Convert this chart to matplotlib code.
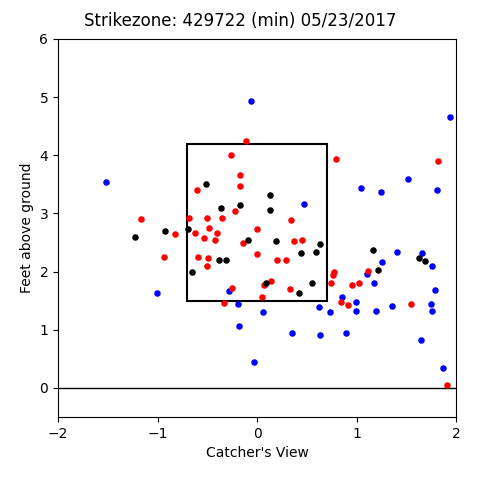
import matplotlib
matplotlib.use("Agg")
import matplotlib.pyplot as plt
from matplotlib.patches import Rectangle

red_x = [-0.114, -0.264, -0.168, -0.174, -0.603, -0.224, -1.166, -0.683, -0.503, -0.349,
         -0.482, -0.620, -0.399, -0.827, -0.530, -0.422, 0.003, -0.138, 0.0, -0.935,
         -0.596, -0.496, -0.503, -0.254, -0.335, 0.047, 0.794, 0.339, 0.375, 0.456,
         0.204, 0.295, 0.771, 0.761, 1.119, 0.744, 0.952, 1.025, 0.141, 0.074,
         0.335, 0.841, 0.912, 1.548, 1.816, 1.91]
red_y = [4.25, 4.00, 3.66, 3.47, 3.40, 3.04, 2.91, 2.92, 2.92, 2.93,
         2.745, 2.67, 2.66, 2.64, 2.58, 2.54, 2.73, 2.50, 2.30, 2.25,
         2.25, 2.235, 2.09, 1.72, 1.456, 1.57, 3.94, 2.89, 2.53, 2.54,
         2.195, 2.20, 1.995, 1.95, 2.01, 1.81, 1.776, 1.805, 1.845, 1.776,
         1.70, 1.478, 1.43, 1.44, 3.90, 0.046]

black_x = [-0.513, -0.359, -0.174, -0.697, -0.925, -1.223, -0.093, -0.382, -0.315, -0.650,
           0.127, 0.131, 0.191, 0.630, 1.169, 0.445, 0.590, 1.216, 0.087, 0.556,
           0.422, 1.625, 1.686]
black_y = [3.50, 3.09, 3.15, 2.74, 2.69, 2.60, 2.54, 2.195, 2.195, 1.99,
           3.31, 3.065, 2.527, 2.47, 2.38, 2.315, 2.33, 2.03, 1.805, 1.81,
           1.63, 2.235, 2.18]

blue_x = [-1.521, -0.281, -1.002, -0.194, 1.045, 1.249, 0.472, 1.407, 1.109, 1.259,
          1.179, 0.857, 0.992, 0.626, 1.36, 1.655, 1.762, 1.789, 1.752, 1.762,
          1.199, 0.992, 0.734, 0.064, -0.181, 0.355, 0.63, 0.894, 1.645, -0.030,
          1.866, 1.936, 1.518, 1.806, -0.063]
blue_y = [3.547, 1.67, 1.64, 1.45, 3.44, 3.375, 3.17, 2.33, 1.96, 2.16,
          1.80, 1.564, 1.478, 1.40, 1.41, 2.32, 2.10, 1.69, 1.45, 1.32,
          1.32, 1.32, 1.30, 1.31, 1.066, 0.94, 0.91, 0.95, 0.83, 0.452,
          0.344, 4.665, 3.59, 3.40, 4.934]

zone_left, zone_right = -0.708, 0.708
zone_bottom, zone_top = 1.5, 4.2

fig = plt.figure(figsize=(4.8, 4.8), dpi=100)
ax = fig.add_axes([58/480, 63/480, 398/480, 378/480])
ax.scatter(blue_x, blue_y, s=22, c='blue', linewidths=0, zorder=3)
ax.scatter(red_x, red_y, s=22, c='red', linewidths=0, zorder=3)
ax.scatter(black_x, black_y, s=22, c='black', linewidths=0, zorder=3)
ax.add_patch(Rectangle((zone_left, zone_bottom), zone_right - zone_left, zone_top - zone_bottom,
                       fill=False, edgecolor='black', linewidth=1.5, zorder=2))
ax.axhline(0, color='black', linewidth=1)
ax.set_xlim(-2, 2)
ax.set_ylim(-0.5, 6)
ax.set_xticks([-2, -1, 0, 1, 2])
ax.set_yticks([0, 1, 2, 3, 4, 5, 6])
ax.set_xlabel("Catcher's View")
ax.set_ylabel("Feet above ground")
fig.suptitle("Strikezone: 429722 (min) 05/23/2017", y=0.975)
fig.savefig("out.png", dpi=100)
